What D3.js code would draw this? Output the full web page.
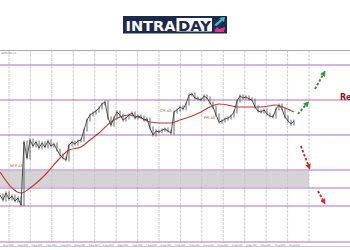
<!DOCTYPE html>
<html>
<head>
<meta charset="utf-8">
<script src="https://cdn.jsdelivr.net/npm/d3@7"></script>
<style>
  body { margin: 0; background: #fff; }
  svg { display: block; }
</style>
</head>
<body>
<svg id="chart" width="350" height="250"></svg>
<script>
// hourly-ish closes
const closes = [
  1.2565, 1.2550, 1.2571, 1.2553, 1.2562, 1.2547, 1.2556, 1.2535, 1.2724, 1.2676,
  1.2730, 1.2712, 1.2724, 1.2706, 1.2721, 1.2709, 1.2727, 1.2712, 1.2718, 1.2700,
  1.2685, 1.2676, 1.2670, 1.2715, 1.2724, 1.2718, 1.2727, 1.2730, 1.2760, 1.2790,
  1.2805, 1.2811, 1.2817, 1.2826, 1.2838, 1.2844, 1.2796, 1.2775, 1.2796, 1.2814,
  1.2805, 1.2790, 1.2796, 1.2805, 1.2811, 1.2796, 1.2802, 1.2799, 1.2790, 1.2793,
  1.2766, 1.2745, 1.2757, 1.2754, 1.2760, 1.2763, 1.2757, 1.2751, 1.2814, 1.2820,
  1.2829, 1.2823, 1.2838, 1.2865, 1.2868, 1.2856, 1.2853, 1.2850, 1.2862, 1.2856,
  1.2841, 1.2829, 1.2805, 1.2784, 1.2787, 1.2793, 1.2796, 1.2802, 1.2814, 1.2847,
  1.2862, 1.2856, 1.2859, 1.2853, 1.2850, 1.2829, 1.2817, 1.2814, 1.2820, 1.2808,
  1.2802, 1.2799, 1.2823, 1.2835, 1.2823, 1.2799, 1.2787, 1.2778, 1.2787
];

// moving average (sampled)
const maIdx  = [0, 7, 10, 15, 20, 23, 27, 30, 33, 37, 40, 43, 47, 50, 54, 57, 60, 64, 67, 70, 73, 80, 87, 92, 95, 98];
const maVals = [1.2634, 1.2571, 1.2586, 1.2625, 1.2676, 1.2700, 1.2709, 1.2730, 1.2751, 1.2784,
                1.2799, 1.2805, 1.2796, 1.2784, 1.2781, 1.2781, 1.2790, 1.2802, 1.2814, 1.2829,
                1.2838, 1.2829, 1.2829, 1.2835, 1.2826, 1.2814];

// horizontal levels and the grey zone
const levels = [1.2955, 1.2850, 1.2745, 1.2640, 1.2586, 1.2532, 1.2424];
const zone = [1.2637, 1.2589];

const gridDays = d3.range(15);
const timeLabels = ["31 Jul 2020", "3 Aug 2020", "3 Aug 2020", "4 Aug 2020", "4 Aug 2020", "5 Aug 2020",
  "5 Aug 2020", "6 Aug 2020", "6 Aug 2020", "7 Aug 2020", "7 Aug 2020", "10 Aug 2020", "10 Aug 2020",
  "11 Aug 2020", "11 Aug 2020", "12 Aug 2020", "12 Aug 2020", "13 Aug 2020", "13 Aug 2020",
  "14 Aug 2020", "14 Aug 2020"];

// news labels
const eventNames  = ["NFP AS", "CPI AS", "PPI AS"];
const eventIdx    = [3.3, 53.3, 68];
const eventPrices = [1.2649, 1.2814, 1.2793];

// projected moves (index, price) start -> end
const upMoves   = [[99.3, 1.2808, 102.4, 1.2840], [105, 1.2883, 108, 1.2931]];
const downMoves = [[100.3, 1.2712, 103, 1.2649], [106, 1.2577, 108, 1.2544]];

const svg = d3.select("#chart");
const W = 350, H = 250;

let x = d3.scaleLinear().domain([0, 98]).range([0, 294]);
let y = d3.scaleLinear().domain([1.2400, 1.3000]).range([250, 50]);
let gx = d3.scalePoint().domain(gridDays).range([9, 309]);
let lx = d3.scalePoint().domain(d3.range(timeLabels.length)).range([3, 289]);

svg.append("rect").attr("width", W).attr("height", H).attr("fill", "#fff");

// grey zone
svg.append("rect")
    .attr("x", 0).attr("y", y(zone[0]))
    .attr("width", gx(14)).attr("height", y(zone[1]) - y(zone[0]))
    .attr("fill", "#d4d4d4");

// vertical grid
svg.selectAll(".vgrid")
    .data(gridDays)
    .enter().append("line")
    .attr("class", "vgrid")
    .attr("x1", d => gx(d)).attr("x2", d => gx(d))
    .attr("y1", 50).attr("y2", 243)
    .attr("stroke", "#c4c4c4")
    .attr("stroke-width", 0.8)
    .attr("stroke-dasharray", "3,1");

// frame
svg.append("line").attr("x1", 0).attr("x2", W).attr("y1", 50.5).attr("y2", 50.5)
    .attr("stroke", "#aaa").attr("stroke-width", 1);
svg.append("line").attr("x1", 0).attr("x2", W).attr("y1", 246.5).attr("y2", 246.5)
    .attr("stroke", "#bbb").attr("stroke-width", 0.8);

// levels
svg.selectAll(".level")
    .data(levels)
    .enter().append("line")
    .attr("class", "level")
    .attr("x1", 0).attr("x2", W)
    .attr("y1", d => y(d)).attr("y2", d => y(d))
    .attr("stroke", "#b06ccc")
    .attr("stroke-width", 1.2);

// MA
let maLine = d3.line()
    .x((d, i) => x(maIdx[i]))
    .y(d => y(d))
    .curve(d3.curveMonotoneX);
svg.append("path")
    .attr("d", maLine(maVals))
    .attr("fill", "none")
    .attr("stroke", "#cc3333")
    .attr("stroke-width", 1.1);

// price: thin candles from previous close + line
svg.selectAll(".body")
    .data(closes.slice(1))
    .enter().append("rect")
    .attr("class", "body")
    .attr("x", (d, i) => x(i + 1) - 0.5)
    .attr("width", 1)
    .attr("y", (d, i) => Math.min(y(d), y(closes[i])) - 1.5)
    .attr("height", (d, i) => Math.abs(y(d) - y(closes[i])) + 3)
    .attr("fill", "#6a6a6a");

let priceLine = d3.line()
    .x((d, i) => x(i))
    .y(d => y(d));
svg.append("path")
    .attr("d", priceLine(closes))
    .attr("fill", "none")
    .attr("stroke", "#3b3f3b")
    .attr("stroke-width", 0.9);

// event labels
svg.selectAll(".event")
    .data(eventNames)
    .enter().append("text")
    .attr("class", "event")
    .attr("x", (d, i) => x(eventIdx[i]))
    .attr("y", (d, i) => y(eventPrices[i]))
    .attr("font-family", "DejaVu Sans, sans-serif")
    .attr("font-size", 3.6)
    .attr("fill", "#c83232")
    .text(d => d);

// Resistance label, clipped by the edge as in the source
svg.append("text")
    .attr("x", x(113.3))
    .attr("y", y(1.2850) - 0.5)
    .attr("font-family", "DejaVu Sans, sans-serif")
    .attr("font-weight", "bold")
    .attr("font-size", 8)
    .attr("fill", "#8e1c1c")
    .text("Resistance");

// arrows
let defs = svg.append("defs");
[["up", "#2f9b3a"], ["down", "#d42a2a"]].forEach(([id, col]) => {
    defs.append("marker")
        .attr("id", "arr-" + id)
        .attr("viewBox", "0 0 10 10")
        .attr("refX", 5).attr("refY", 5)
        .attr("markerWidth", 3).attr("markerHeight", 3)
        .attr("orient", "auto")
        .append("path")
        .attr("d", "M0,0 L10,5 L0,10 Z")
        .attr("fill", col);
});

function drawMoves(moves, id, col) {
    svg.selectAll(".mv-" + id)
        .data(moves)
        .enter().append("line")
        .attr("class", "mv-" + id)
        .attr("x1", d => x(d[0])).attr("y1", d => y(d[1]))
        .attr("x2", d => x(d[2])).attr("y2", d => y(d[3]))
        .attr("stroke", col)
        .attr("stroke-width", 1.9)
        .attr("stroke-dasharray", "2.5,1.8")
        .attr("marker-end", `url(#arr-${id})`);
}
drawMoves(upMoves, "up", "#2f9b3a");
drawMoves(downMoves, "down", "#d42a2a");

// time labels, squeezed so they do not run into each other
svg.selectAll(".tlabel")
    .data(timeLabels)
    .enter().append("text")
    .attr("class", "tlabel")
    .attr("x", (d, i) => lx(i))
    .attr("y", 245.5)
    .attr("font-family", "DejaVu Sans, sans-serif")
    .attr("font-size", 2.4)
    .attr("textLength", 10.5).attr("lengthAdjust", "spacingAndGlyphs")
    .attr("fill", "#666")
    .text(d => d);

svg.append("text")
    .attr("x", 1).attr("y", 53.5)
    .attr("font-family", "DejaVu Sans, sans-serif")
    .attr("font-size", 2.6)
    .attr("fill", "#777")
    .text("GBPUSD,H1");

// logo
let logo = svg.append("g");
logo.append("rect")
    .attr("x", 123).attr("y", 16).attr("width", 104).attr("height", 17.5)
    .attr("fill", "#1d2a4d");
logo.append("text")
    .attr("x", 125.5).attr("y", 30.5)
    .attr("font-family", "DejaVu Sans, sans-serif")
    .attr("font-weight", "bold")
    .attr("font-size", 14.5)
    .attr("textLength", 50).attr("lengthAdjust", "spacingAndGlyphs")
    .attr("fill", "#fff")
    .text("INTRA");
logo.append("rect")
    .attr("x", 176.5).attr("y", 18).attr("width", 35.5).attr("height", 13.5)
    .attr("fill", "#fff");
logo.append("text")
    .attr("x", 178).attr("y", 30.5)
    .attr("font-family", "DejaVu Sans, sans-serif")
    .attr("font-weight", "bold")
    .attr("font-size", 14.5)
    .attr("textLength", 33).attr("lengthAdjust", "spacingAndGlyphs")
    .attr("fill", "#1d2a4d")
    .text("DAY");
logo.append("path")
    .attr("d", "M214,25 L221,19 L219,18 L225,17 L224,22 L222.5,20.5 L216.5,26 Z")
    .attr("fill", "#2bc4d4");
logo.append("path")
    .attr("d", "M215,32 L224,32 L225,27 L219,29 L217,27 L214.5,30 Z")
    .attr("fill", "#e0338f");
</script>
</body>
</html>
